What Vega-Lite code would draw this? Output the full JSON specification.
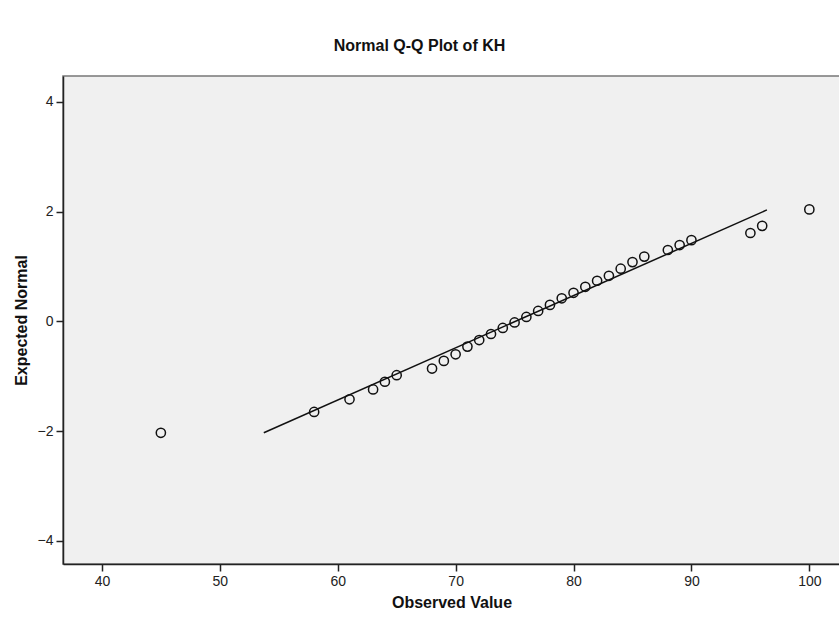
{
  "$schema": "https://vega.github.io/schema/vega-lite/v6.json",
  "width": 777,
  "height": 488,
  "autosize": "none",
  "padding": {"left": 63, "top": 76, "right": 0, "bottom": 65},
  "background": "white",
  "title": {
    "text": "Normal Q-Q Plot of KH",
    "font": "Liberation Sans",
    "fontSize": 16,
    "fontWeight": "bold",
    "color": "#111",
    "anchor": "middle",
    "dx": -32,
    "offset": 22
  },
  "config": {
    "view": {"fill": "#F0F0F0", "stroke": "#777", "strokeWidth": 1.5},
    "axis": {
      "grid": false,
      "domainColor": "#222",
      "domainWidth": 1.5,
      "tickColor": "#222",
      "tickWidth": 1.5,
      "tickSize": 7,
      "labelFont": "Liberation Sans",
      "labelFontSize": 14,
      "labelColor": "#222",
      "labelPadding": 3,
      "titleFont": "Liberation Sans",
      "titleFontSize": 16,
      "titleFontWeight": "bold",
      "titleColor": "#111"
    }
  },
  "datasets": {
    "points": [
      {"observed": 45, "expected": -2.03},
      {"observed": 58, "expected": -1.65},
      {"observed": 61, "expected": -1.42},
      {"observed": 63, "expected": -1.24},
      {"observed": 64, "expected": -1.10},
      {"observed": 65, "expected": -0.98},
      {"observed": 68, "expected": -0.86},
      {"observed": 69, "expected": -0.72},
      {"observed": 70, "expected": -0.60},
      {"observed": 71, "expected": -0.46},
      {"observed": 72, "expected": -0.34},
      {"observed": 73, "expected": -0.23},
      {"observed": 74, "expected": -0.12},
      {"observed": 75, "expected": -0.02},
      {"observed": 76, "expected": 0.08},
      {"observed": 77, "expected": 0.19},
      {"observed": 78, "expected": 0.30},
      {"observed": 79, "expected": 0.42},
      {"observed": 80, "expected": 0.52},
      {"observed": 81, "expected": 0.63},
      {"observed": 82, "expected": 0.74},
      {"observed": 83, "expected": 0.83},
      {"observed": 84, "expected": 0.96},
      {"observed": 85, "expected": 1.08},
      {"observed": 86, "expected": 1.18},
      {"observed": 88, "expected": 1.30},
      {"observed": 89, "expected": 1.39},
      {"observed": 90, "expected": 1.48},
      {"observed": 95, "expected": 1.61},
      {"observed": 96, "expected": 1.74},
      {"observed": 100, "expected": 2.04}
    ],
    "line": [
      {"observed": 53.73, "expected": -2.03},
      {"observed": 96.4, "expected": 2.03}
    ]
  },
  "encoding": {
    "x": {
      "field": "observed",
      "type": "quantitative",
      "scale": {"domain": [36.7, 102.6], "nice": false, "zero": false},
      "axis": {"values": [40, 50, 60, 70, 80, 90, 100], "title": "Observed Value", "titlePadding": 6}
    },
    "y": {
      "field": "expected",
      "type": "quantitative",
      "scale": {"domain": [-4.42, 4.47], "nice": false, "zero": false},
      "axis": {"values": [-4, -2, 0, 2, 4], "title": "Expected Normal", "titlePadding": 8}
    }
  },
  "layer": [
    {
      "data": {"name": "line"},
      "mark": {"type": "line", "color": "#111", "strokeWidth": 1.5}
    },
    {
      "data": {"name": "points"},
      "mark": {"type": "point", "shape": "circle", "filled": false, "color": "#111", "strokeWidth": 1.5, "size": 85, "opacity": 1}
    }
  ]
}
